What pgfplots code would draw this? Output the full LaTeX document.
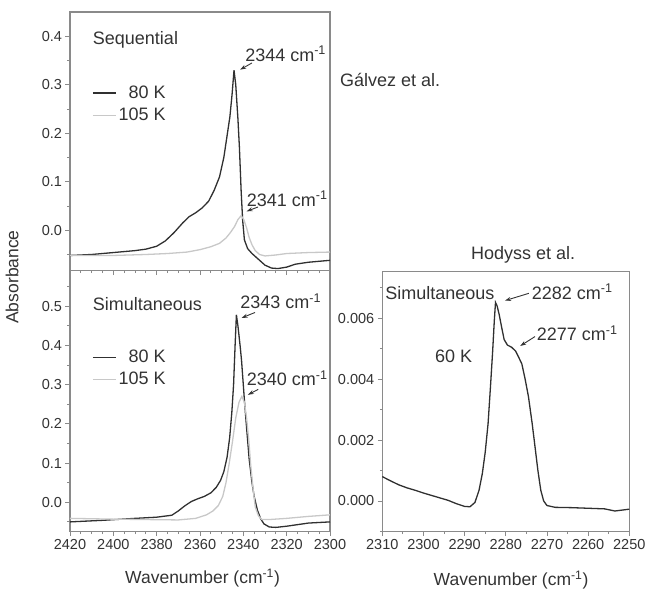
\documentclass[border=0pt]{standalone}
\usepackage{fontspec}
\setmainfont{Liberation Sans}
\usepackage{pgfplots}
\pgfplotsset{compat=1.18}
\usetikzlibrary{arrows.meta}
\definecolor{axgray}{HTML}{8A8A8A}
\definecolor{txt}{HTML}{333333}
\definecolor{dark}{HTML}{303030}
\definecolor{light}{HTML}{C8C8C8}
\newcommand{\annfont}{\fontsize{18}{21.6}\selectfont}
\newcommand{\labfont}{\fontsize{17.5}{21}\selectfont}
\tikzset{
  ann/.style={anchor=west, inner sep=0pt, font=\annfont, text=txt},
  arr/.style={-{Stealth[length=6pt,width=4pt]}, txt, line width=0.9pt},
}
\pgfplotsset{
  myax/.style={
    scale only axis, anchor=south west, clip=false,
    axis line style={axgray, line width=1.1pt},
    every tick/.style={axgray, line width=0.9pt},
    tick align=outside, xtick pos=bottom, ytick pos=left,
    major tick length=4.5pt, minor tick length=2.5pt,
    tick label style={font=\fontsize{14.5}{17}\selectfont, text=txt},
    /pgf/number format/assume math mode=true,
    /pgf/number format/1000 sep={},
    x dir=reverse,
    scaled y ticks=false,
    legend style={draw=none, fill=none, anchor=north west, inner sep=0pt,
      font=\annfont, text=txt, row sep=4pt},
    legend cell align=right,
    legend image code/.code={\draw[##1, line width=1.3pt] (0pt,0pt) -- (23pt,0pt);},
  },
}
\begin{document}
\begin{tikzpicture}
\path[use as bounding box] (0pt,0pt) rectangle (645pt,590pt);
% ---------------- top-left: Sequential
\begin{axis}[myax, at={(70pt,319.5pt)}, width=260pt, height=258.5pt,
  xmin=2300, xmax=2420, ymin=-0.083, ymax=0.45,
  xtick={2300,2320,...,2420}, minor xtick={2305,2310,2315,2325,2330,2335,2345,2350,2355,2365,2370,2375,2385,2390,2395,2405,2410,2415},
  xticklabels={},
  ytick={0,0.1,0.2,0.3,0.4}, minor ytick={-0.05,0.05,0.15,0.25,0.35},
  yticklabel style={/pgf/number format/.cd, fixed, precision=1, fixed zerofill},
  legend style={at={(0.085,0.722)}},
]
\addplot[dark, line width=1.3pt] coordinates {
(2420,-0.052) (2410,-0.050) (2400,-0.046) (2390,-0.042) (2385,-0.039) (2380,-0.033)
(2376,-0.022) (2372,-0.005) (2368,0.015) (2365,0.028) (2362,0.036) (2359,0.046)
(2356,0.060) (2353.5,0.082) (2351,0.110) (2349,0.150) (2347.5,0.195) (2346.2,0.234)
(2345.2,0.280) (2344.3,0.330) (2343.5,0.300) (2342.5,0.230) (2341.8,0.17) (2341,0.08)
(2340.3,0.02) (2339.5,-0.020) (2338,-0.038) (2336,-0.048) (2333,-0.060) (2330,-0.072)
(2327,-0.078) (2324,-0.079) (2320,-0.076) (2316,-0.070) (2310,-0.066) (2305,-0.064) (2300,-0.062)
};
\addlegendentry{80 K}
\addplot[light, line width=1.3pt] coordinates {
(2420,-0.052) (2400,-0.052) (2385,-0.050) (2375,-0.048) (2366,-0.045) (2360,-0.040)
(2355,-0.034) (2351,-0.027) (2348,-0.016) (2346,-0.005) (2344,0.008) (2342.5,0.022)
(2341,0.030) (2339.8,0.022) (2338.5,0.005) (2337.3,-0.015) (2336,-0.030) (2334.5,-0.042)
(2332.5,-0.050) (2330,-0.053) (2325,-0.051) (2320,-0.048) (2310,-0.046) (2300,-0.045)
};
\addlegendentry{105 K}
\node[ann] at (axis cs:2409.5,0.392) {Sequential};
\node[ann] at (axis cs:2339.2,0.364) {2344 cm\textsuperscript{-1}};
\draw[arr] (axis cs:2336,0.345) -- (axis cs:2341.5,0.331);
\node[ann] at (axis cs:2338.5,0.065) {2341 cm\textsuperscript{-1}};
\draw[arr] (axis cs:2333.2,0.048) -- (axis cs:2338.5,0.039);
\node[ann] at (rel axis cs:1.038,0.737) {Gálvez et al.};
\end{axis}
% ---------------- bottom-left: Simultaneous
\begin{axis}[myax, at={(70pt,58.3pt)}, width=260pt, height=261.2pt,
  xmin=2300, xmax=2420, ymin=-0.075, ymax=0.591,
  xtick={2300,2320,...,2420}, minor xtick={2305,2310,2315,2325,2330,2335,2345,2350,2355,2365,2370,2375,2385,2390,2395,2405,2410,2415},
  ytick={0,0.1,0.2,0.3,0.4,0.5}, minor ytick={-0.05,0.05,0.15,0.25,0.35,0.45,0.55},
  yticklabel style={/pgf/number format/.cd, fixed, precision=1, fixed zerofill},
  legend style={at={(0.085,0.703)}},
]
\addplot[dark, line width=1.3pt] coordinates {
(2420,-0.050) (2405,-0.046) (2390,-0.041) (2380,-0.038) (2373,-0.033) (2370,-0.022)
(2367,-0.009) (2364,0.002) (2361,0.009) (2358,0.015) (2355,0.024) (2352.5,0.038)
(2350.5,0.056) (2349,0.078) (2347.5,0.115) (2346.3,0.165) (2345.3,0.230) (2344.5,0.300)
(2343.8,0.400) (2343.2,0.478) (2342.5,0.450) (2341.5,0.400) (2340.8,0.360) (2339.5,0.260)
(2338.5,0.190) (2337.3,0.110) (2336,0.050) (2335,0.015) (2333.5,-0.020) (2332,-0.042)
(2330.5,-0.055) (2328,-0.063) (2325,-0.064) (2320,-0.061) (2315,-0.057) (2310,-0.053) (2300,-0.050)
};
\addlegendentry{80 K}
\addplot[light, line width=1.3pt] coordinates {
(2420,-0.041) (2400,-0.043) (2385,-0.044) (2370,-0.045) (2362,-0.041) (2357,-0.032)
(2354,-0.022) (2351.5,-0.008) (2349.5,0.015) (2348,0.050) (2346.5,0.100) (2345,0.155)
(2343.5,0.215) (2342,0.255) (2340.7,0.270) (2339.5,0.255) (2338.5,0.215) (2337.5,0.160)
(2336.6,0.095) (2335.5,0.035) (2334.5,-0.012) (2333,-0.035) (2331.5,-0.044) (2328,-0.044)
(2320,-0.041) (2310,-0.036) (2300,-0.032)
};
\addlegendentry{105 K}
\node[ann] at (axis cs:2409.5,0.505) {Simultaneous};
\node[ann] at (axis cs:2341.5,0.513) {2343 cm\textsuperscript{-1}};
\draw[arr] (axis cs:2334.6,0.484) -- (axis cs:2340.8,0.470);
\node[ann] at (axis cs:2338.5,0.317) {2340 cm\textsuperscript{-1}};
\draw[arr] (axis cs:2333.1,0.288) -- (axis cs:2337.9,0.274);
\end{axis}
% ---------------- right: Hodyss
\begin{axis}[myax, at={(382.3pt,58.3pt)}, width=247pt, height=260pt,
  xmin=2250, xmax=2310, ymin=-0.00101, ymax=0.00753,
  xtick={2250,2260,...,2310}, minor xtick={2255,2265,2275,2285,2295,2305},
  ytick={0,0.002,0.004,0.006}, minor ytick={-0.001,0.001,0.003,0.005,0.007},
  yticklabel style={/pgf/number format/.cd, fixed, precision=3, fixed zerofill},
]
\addplot[dark, line width=1.3pt] coordinates {
(2310,0.00080) (2308,0.00066) (2306,0.00053) (2304,0.00043) (2302,0.00035) (2300,0.00026)
(2298,0.00018) (2296,0.00010) (2294,0.00002) (2292,-0.00009) (2290,-0.00018) (2288.7,-0.00019)
(2287.5,-0.00005) (2286.5,0.00035) (2285.7,0.00090) (2285,0.00160) (2284.3,0.00255)
(2283.7,0.00380) (2283.2,0.00490) (2282.8,0.00590) (2282.5,0.00652) (2282.1,0.00640)
(2281.6,0.00612) (2281.0,0.00570) (2280.4,0.00530) (2279.6,0.00512) (2278.6,0.00505)
(2277.6,0.00492) (2276.8,0.00470) (2276.1,0.00450) (2275.3,0.00400) (2274.5,0.00343)
(2273.6,0.00255) (2272.9,0.00178) (2272.2,0.00100) (2271.5,0.00035) (2270.8,0.00000)
(2270,-0.00015) (2268,-0.00021) (2264,-0.00022) (2260,-0.00024) (2256,-0.00026)
(2253.5,-0.00033) (2250,-0.00027)
};
\node[ann] at (axis cs:2309.3,0.00684) {Simultaneous};
\node[ann] at (axis cs:2273.7,0.00687) {2282 cm\textsuperscript{-1}};
\draw[arr] (axis cs:2274.4,0.00682) -- (axis cs:2280.2,0.00658);
\node[ann] at (axis cs:2272.5,0.00551) {2277 cm\textsuperscript{-1}};
\draw[arr] (axis cs:2272.9,0.00540) -- (axis cs:2276.5,0.00509);
\node[ann] at (axis cs:2297.2,0.00476) {60 K};
\node[inner sep=0pt, font=\annfont, text=txt] at (rel axis cs:0.57,1.064) {Hodyss et al.};
\end{axis}
\node[rotate=90, font=\labfont, text=txt] at (12pt,313pt) {Absorbance};
\node[font=\labfont, text=txt] at (202.5pt,12pt) {Wavenumber (cm\textsuperscript{-1})};
\node[font=\labfont, text=txt] at (511pt,10pt) {Wavenumber (cm\textsuperscript{-1})};
\end{tikzpicture}
\end{document}
